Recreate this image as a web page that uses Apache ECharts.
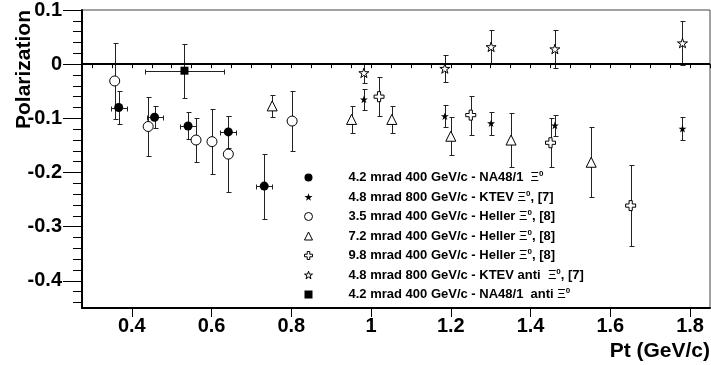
<!DOCTYPE html>
<html><head><meta charset="utf-8">
<script src="https://cdn.jsdelivr.net/npm/echarts@6/dist/echarts.min.js"></script>
<style>html,body{margin:0;padding:0;background:#fff}#c{width:711px;height:365px}</style>
</head><body><div id="c"></div>
<script>
// ---- data ----
const na48X  = [0.367, 0.457, 0.541, 0.642, 0.732];
const na48Y  = [-0.080, -0.098, -0.114, -0.125, -0.225];
const na48Ex = [0.020, 0.020, 0.020, 0.020, 0.020];
const na48Ey = [0.030, 0.020, 0.025, 0.030, 0.060];

const ktevX  = [0.982, 1.185, 1.301, 1.461, 1.781];
const ktevY  = [-0.065, -0.096, -0.109, -0.113, -0.119];
const ktevEy = [0.020, 0.020, 0.021, 0.020, 0.021];

const h35X  = [0.357, 0.441, 0.561, 0.601, 0.642, 0.802];
const h35Y  = [-0.031, -0.115, -0.140, -0.143, -0.166, -0.105];
const h35Ey = [0.070, 0.055, 0.040, 0.060, 0.070, 0.055];

const h72X  = [0.752, 0.951, 1.052, 1.200, 1.351, 1.552];
const h72Y  = [-0.077, -0.102, -0.102, -0.133, -0.140, -0.181];
const h72Ey = [0.020, 0.025, 0.025, 0.035, 0.049, 0.065];

const h98X  = [1.020, 1.250, 1.450, 1.651];
const h98Y  = [-0.060, -0.094, -0.145, -0.261];
const h98Ey = [0.036, 0.036, 0.045, 0.075];

const ktevAntiX  = [0.982, 1.185, 1.301, 1.461, 1.781];
const ktevAntiY  = [-0.016, -0.008, 0.032, 0.028, 0.039];
const ktevAntiEy = [0.019, 0.025, 0.031, 0.035, 0.041];

const na48AntiX  = [0.532];
const na48AntiY  = [-0.012];
const na48AntiEx = [0.100];
const na48AntiEy = [0.050];

const xTicks = [0.4, 0.6, 0.8, 1, 1.2, 1.4, 1.6, 1.8];
const yTicks = [-0.4, -0.3, -0.2, -0.1, 0, 0.1];
const legendLabels = [
  '4.2 mrad 400 GeV/c - NA48/1  {xi|Ξ}{sup|0}',
  '4.8 mrad 800 GeV/c - KTEV {xi|Ξ}{sup|0}, [7]',
  '3.5 mrad 400 GeV/c - Heller {xi|Ξ}{sup|0}, [8]',
  '7.2 mrad 400 GeV/c - Heller {xi|Ξ}{sup|0}, [8]',
  '9.8 mrad 400 GeV/c - Heller {xi|Ξ}{sup|0}, [8]',
  '4.8 mrad 800 GeV/c - KTEV anti  {xi|Ξ}{sup|0}, [7]',
  '4.2 mrad 400 GeV/c - NA48/1  anti {xi|Ξ}{sup|0}'
];
// ---- end data ----

const xMin = 0.275, xMax = 1.85, yMin = -0.45, yMax = 0.1;
const xMinor = []; for (let i = 0; i <= 32; i++) { const v = 0.25 + 0.05 * i; if (v > xMin && v <= xMax + 1e-9) xMinor.push(+v.toFixed(3)); }
const yMinor = []; for (let i = 0; i <= 27; i++) { yMinor.push(+(-0.44 + 0.02 * i).toFixed(3)); }

const FONT = '"Liberation Sans", Arial, Helvetica, sans-serif';
const STAR = 'path://M100,0 L122.45,69.1 L195.1,69.1 L136.3,111.8 L158.8,180.9 L100,138.2 L41.2,180.9 L63.7,111.8 L4.9,69.1 L77.55,69.1 Z';
const CROSS = 'path://M34,0 L66,0 L66,34 L100,34 L100,66 L66,66 L66,100 L34,100 L34,66 L0,66 L0,34 L34,34 Z';

function zipPts(xs, ys) { return xs.map((x, i) => [x, ys[i]]); }
function zipErr(xs, ys, exs, eys) { return xs.map((x, i) => [x, ys[i], exs ? exs[i] : 0, eys[i]]); }

const sets = [
  { id: 'na48',     x: na48X,     y: na48Y,     ex: na48Ex,     ey: na48Ey,     symbol: 'circle',   size: 9,  fill: '#000' },
  { id: 'ktev',     x: ktevX,     y: ktevY,     ex: null,       ey: ktevEy,     symbol: STAR,       size: 8,  fill: '#000' },
  { id: 'h35',      x: h35X,      y: h35Y,      ex: null,       ey: h35Ey,      symbol: 'circle',   size: 10, fill: '#fff' },
  { id: 'h72',      x: h72X,      y: h72Y,      ex: null,       ey: h72Ey,      symbol: 'triangle', size: 10, fill: '#fff' },
  { id: 'h98',      x: h98X,      y: h98Y,      ex: null,       ey: h98Ey,      symbol: CROSS,      size: 10, fill: '#fff' },
  { id: 'ktevAnti', x: ktevAntiX, y: ktevAntiY, ex: null,       ey: ktevAntiEy, symbol: STAR,       size: 10, fill: '#fff' },
  { id: 'na48Anti', x: na48AntiX, y: na48AntiY, ex: na48AntiEx, ey: na48AntiEy, symbol: 'rect',     size: 8,  fill: '#000' }
];

function ln(x1, y1, x2, y2) {
  return { type: 'line', shape: { x1, y1, x2, y2 }, style: { stroke: '#222', lineWidth: 1 } };
}
function renderErr(params, api) {
  const x = api.value(0), y = api.value(1), ex = api.value(2), ey = api.value(3);
  const c = api.coord([x, y]);
  const cx = Math.round(c[0]) + 0.5, cy = Math.round(c[1]) + 0.5;
  const cap = 2;
  const ch = [];
  if (ey > 0) {
    const t = Math.round(api.coord([x, y + ey])[1]) + 0.5;
    const b = Math.round(api.coord([x, y - ey])[1]) + 0.5;
    ch.push(ln(cx, t, cx, b), ln(cx - cap, t, cx + cap + 1, t), ln(cx - cap, b, cx + cap + 1, b));
  }
  if (ex > 0) {
    const l = Math.round(api.coord([x - ex, y])[0]) + 0.5;
    const r = Math.round(api.coord([x + ex, y])[0]) + 0.5;
    ch.push(ln(l, cy, r, cy), ln(l, cy - cap, l, cy + cap + 1), ln(r, cy - cap, r, cy + cap + 1));
  }
  return { type: 'group', children: ch };
}

const series = [];
sets.forEach((s) => {
  series.push({
    type: 'custom', name: s.id + '_err', renderItem: renderErr, silent: true, z: 2,
    encode: { x: 0, y: 1 }, data: zipErr(s.x, s.y, s.ex, s.ey)
  });
  const sc = {
    type: 'scatter', name: s.id, data: zipPts(s.x, s.y), symbol: s.symbol, symbolSize: s.size,
    symbolKeepAspect: true, z: 3, silent: true,
    itemStyle: { color: s.fill, borderColor: '#000', borderWidth: s.fill === '#fff' ? 1 : 0, opacity: 1 }
  };
  if (s.id === 'na48Anti') {
    sc.markLine = {
      silent: true, symbol: 'none', label: { show: false }, animation: false,
      lineStyle: { color: '#000', width: 2, type: 'solid' },
      emphasis: { disabled: true },
      data: [{ yAxis: 0 }]
    };
  }
  series.push(sc);
});

const legendData = sets.map(s => ({
  name: s.id, icon: s.symbol,
  itemStyle: { color: s.fill, borderColor: '#000', borderWidth: s.fill === '#fff' ? 1 : 0 }
}));

const chart = echarts.init(document.getElementById('c'), null, { renderer: 'canvas' });
chart.setOption({
  animation: false,
  backgroundColor: '#fff',
  grid: { left: 82, right: 1, top: 10, bottom: 57, show: true, borderColor: '#444', borderWidth: 1, backgroundColor: 'transparent' },
  xAxis: [
    {
      type: 'value', min: xMin, max: xMax, position: 'bottom',
      axisLine: { show: true, onZero: false, lineStyle: { color: '#000', width: 2 } },
      axisTick: { show: true, inside: false, length: 9, customValues: xTicks, lineStyle: { color: '#000', width: 1 } },
      axisLabel: { show: true, customValues: xTicks, margin: 8, fontSize: 20, fontWeight: 'bold', fontFamily: FONT, color: '#000' },
      splitLine: { show: false }
    },
    {
      type: 'value', min: xMin, max: xMax, position: 'bottom',
      axisLine: { show: false },
      axisTick: { show: true, inside: false, length: 4, customValues: xMinor, lineStyle: { color: '#000', width: 1 } },
      axisLabel: { show: false },
      splitLine: { show: false }
    }
  ],
  yAxis: [
    {
      type: 'value', min: yMin, max: yMax, position: 'left',
      axisLine: { show: true, onZero: false, lineStyle: { color: '#000', width: 2 } },
      axisTick: { show: true, inside: false, length: 19, customValues: yTicks, lineStyle: { color: '#000', width: 1 } },
      axisLabel: { show: true, customValues: yTicks, margin: 20, fontSize: 20, fontWeight: 'bold', fontFamily: FONT, color: '#000' },
      splitLine: { show: false }
    },
    {
      type: 'value', min: yMin, max: yMax, position: 'left',
      axisLine: { show: false },
      axisTick: { show: true, inside: false, length: 9, customValues: yMinor, lineStyle: { color: '#000', width: 1 } },
      axisLabel: { show: false },
      splitLine: { show: false }
    }
  ],
  legend: {
    orient: 'vertical', left: 304, top: 170, padding: 0, itemGap: 4.5,
    itemWidth: 8, itemHeight: 8, selectedMode: false,
    itemStyle: { borderWidth: 1 },
    data: legendData,
    formatter: name => '{sp| }' + legendLabels[sets.findIndex(s => s.id === name)],
    textStyle: {
      fontFamily: FONT, fontSize: 13, fontWeight: 'bold', color: '#000', lineHeight: 15,
      rich: {
        sp: { width: 31, fontSize: 13, lineHeight: 15 },
        xi: { fontFamily: FONT, fontSize: 13, fontWeight: 'normal', color: '#000', lineHeight: 15 },
        sup: { fontFamily: FONT, fontSize: 8, fontWeight: 'bold', color: '#000', lineHeight: 8, verticalAlign: 'top' }
      }
    }
  },
  graphic: [
    { type: 'text', x: 24, y: 10, rotation: Math.PI / 2, silent: true,
      style: { text: 'Polarization', font: 'bold 21px ' + FONT, fill: '#000', align: 'right', verticalAlign: 'middle', textAlign: 'right', textVerticalAlign: 'middle' } },
    { type: 'text', x: 710, y: 351, silent: true,
      style: { text: 'Pt (GeV/c)', font: 'bold 21px ' + FONT, fill: '#000', align: 'right', verticalAlign: 'middle', textAlign: 'right', textVerticalAlign: 'middle' } }
  ],
  series: series
});
</script>
</body></html>
